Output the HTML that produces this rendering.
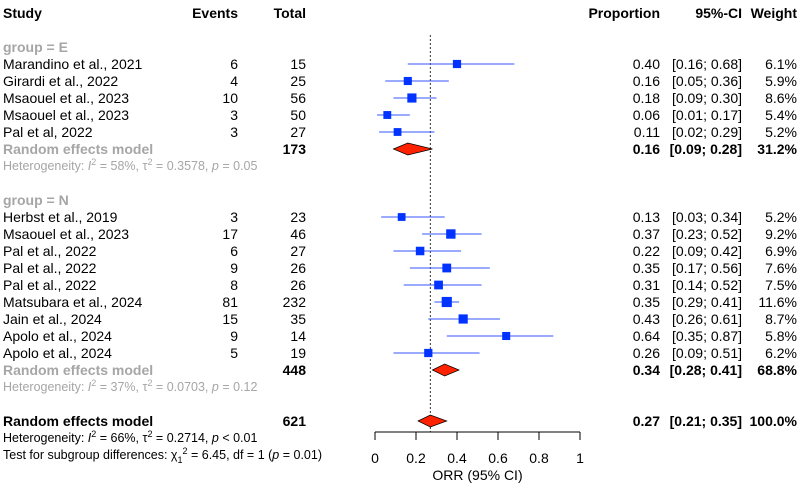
<!DOCTYPE html>
<html><head><meta charset="utf-8"><style>
html,body{margin:0;padding:0;background:#fff;}
svg{display:block;font-family:"Liberation Sans",Arial,sans-serif;font-size:14px;}
</style></head><body>
<svg id="c" width="800" height="487" xmlns="http://www.w3.org/2000/svg"></svg>
<script>
const studies=["Marandino et al., 2021","Girardi et al., 2022","Msaouel et al., 2023","Msaouel et al., 2023","Pal et al, 2022","Herbst et al., 2019","Msaouel et al., 2023","Pal et al., 2022","Pal et al., 2022","Pal et al., 2022","Matsubara et al., 2024","Jain et al., 2024","Apolo et al., 2024","Apolo et al., 2024"];
const groups=["E","E","E","E","E","N","N","N","N","N","N","N","N","N"];
const events=[6,4,10,3,3,3,17,6,9,8,81,15,9,5];
const totals=[15,25,56,50,27,23,46,27,26,26,232,35,14,19];
const props=[0.40,0.16,0.18,0.06,0.11,0.13,0.37,0.22,0.35,0.31,0.35,0.43,0.64,0.26];
const lows=[0.16,0.05,0.09,0.01,0.02,0.03,0.23,0.09,0.17,0.14,0.29,0.26,0.35,0.09];
const highs=[0.68,0.36,0.30,0.17,0.29,0.34,0.52,0.42,0.56,0.52,0.41,0.61,0.87,0.51];
const weights=[6.1,5.9,8.6,5.4,5.2,5.2,9.2,6.9,7.6,7.5,11.6,8.7,5.8,6.2];
const groupNames=["E","N"];
const groupTotals=[173,448];
const groupEst=[0.16,0.34];
const groupLo=[0.09,0.28];
const groupHi=[0.28,0.41];
const groupW=[31.2,68.8];
const groupHet=["58%","0.3578","= 0.05","37%","0.0703","= 0.12"];
const overall=[0.27,0.21,0.35];
const overallTotal=621;
const ticks=[0,0.2,0.4,0.6,0.8,1];

const svg=document.getElementById('c');
const NS="http://www.w3.org/2000/svg";
const x=v=>375+v*205;
const rowY=r=>18+r*17;
function el(tag,attrs,parent){const e=document.createElementNS(NS,tag);for(const k in attrs)e.setAttribute(k,attrs[k]);(parent||svg).appendChild(e);return e;}
function txt(s,X,Y,anchor,opts,name){const t=el('text',Object.assign({x:X,y:Y,'text-anchor':anchor||'start',fill:'#000'},opts||{}));t.textContent=s;


return t;}
const f2=v=>v.toFixed(2);
const ci=(l,h)=>"["+f2(l)+"; "+f2(h)+"]";
const gray='#a6a6a6';
const B={'font-weight':'bold'};
txt("Study",3,rowY(0),'start',B,'study-header');
txt("Events",238,rowY(0),'end',B,'events-header');
txt("Total",306,rowY(0),'end',B,'total-header');
txt("Proportion",660,rowY(0),'end',B,'proportion-header');
txt("95%-CI",742,rowY(0),'end',B,'ci-header');
txt("Weight",797,rowY(0),'end',B,'weight-header');
const rl=el('line',{x1:x(overall[0]),x2:x(overall[0]),y1:35,y2:432,stroke:'#333','stroke-dasharray':'2,2','stroke-width':1});


function diamond(est,lo,hi,cy,name){const p=el('polygon',{points:`${x(lo)},${cy} ${x(est)},${cy-6} ${x(hi)},${cy} ${x(est)},${cy+6}`,fill:'#ff2200',stroke:'#000','stroke-width':0.7});

}
let r=2;
groupNames.forEach((g,gi)=>{
  txt("group = "+g,3,rowY(r),'start',{fill:gray,'font-weight':'bold'},'group-label-'+g);r++;
  studies.forEach((s,i)=>{ if(groups[i]!==g)return;
    const y=rowY(r), cy=y-5;
    txt(s,3,y,'start',{},'study-name');
    txt(String(events[i]),238,y,'end',{},'events-value');
    txt(String(totals[i]),306,y,'end',{},'total-value');
    txt(f2(props[i]),660,y,'end',{},'proportion-value');
    txt(ci(lows[i],highs[i]),742,y,'end',{},'ci-value');
    txt(weights[i].toFixed(1)+"%",797,y,'end',{},'weight-value');
    const ln=el('line',{x1:x(lows[i]),x2:x(highs[i]),y1:cy,y2:cy,stroke:'#3355ff','stroke-width':1});
    
    
    const sz=3+Math.sqrt(weights[i])*2.1;
    const sq=el('rect',{x:x(props[i])-sz/2,y:cy-sz/2,width:sz,height:sz,fill:'#0033ff'});
    
    
    r++;
  });
  const y=rowY(r);
  txt("Random effects model",3,y,'start',{fill:gray,'font-weight':'bold'},'group-model-label');
  txt(String(groupTotals[gi]),306,y,'end',B,'group-total');
  txt(f2(groupEst[gi]),660,y,'end',B,'group-proportion');
  txt(ci(groupLo[gi],groupHi[gi]),742,y,'end',B,'group-ci');
  txt(groupW[gi].toFixed(1)+"%",797,y,'end',B,'group-weight');
  diamond(groupEst[gi],groupLo[gi],groupHi[gi],y-5,'group-diamond-'+g);
  r++;
  const h=txt("",3,rowY(r)-1,'start',{fill:gray,'font-size':'12.5px'},'group-heterogeneity');
  h.innerHTML=`Heterogeneity: <tspan font-style="italic">I</tspan><tspan dy="-5" font-size="9">2</tspan><tspan dy="5"> = ${groupHet[gi*3]}, τ</tspan><tspan dy="-5" font-size="9">2</tspan><tspan dy="5"> = ${groupHet[gi*3+1]}, </tspan><tspan font-style="italic">p</tspan> ${groupHet[gi*3+2]}`;
  r+=2;
});
let y=426;
txt("Random effects model",3,y,'start',B,'overall-model-label');
txt(String(overallTotal),306,y,'end',B,'overall-total');
txt(f2(overall[0]),660,y,'end',B,'overall-proportion');
txt(ci(overall[1],overall[2]),742,y,'end',B,'overall-ci');
txt("100.0%",797,y,'end',B,'overall-weight');
diamond(overall[0],overall[1],overall[2],y-5,'overall-diamond');
const h2=txt("",3,y+16,'start',{'font-size':'12.5px'},'overall-heterogeneity');
h2.innerHTML=`Heterogeneity: <tspan font-style="italic">I</tspan><tspan dy="-5" font-size="9">2</tspan><tspan dy="5"> = 66%, τ</tspan><tspan dy="-5" font-size="9">2</tspan><tspan dy="5"> = 0.2714, </tspan><tspan font-style="italic">p</tspan> &lt; 0.01`;
const h3=txt("",3,y+33,'start',{'font-size':'12.5px'},'subgroup-test');
h3.innerHTML=`Test for subgroup differences: χ<tspan dy="4" font-size="9">1</tspan><tspan dy="-9" font-size="9">2</tspan><tspan dy="5"> = 6.45, df = 1 (</tspan><tspan font-style="italic">p</tspan> = 0.01)`;
const ax=el('line',{x1:x(0),x2:x(1),y1:432,y2:432,stroke:'#000','stroke-width':1});


ticks.forEach(t=>{
  const tk=el('line',{x1:x(t),x2:x(t),y1:432,y2:440,stroke:'#000','stroke-width':1});
  
  
  txt(String(t),x(t),463,'middle',{},'x-tick-label');
});
txt("ORR (95% CI)",x(0.5),480,'middle',{},'x-axis-title');
</script>
</body></html>
